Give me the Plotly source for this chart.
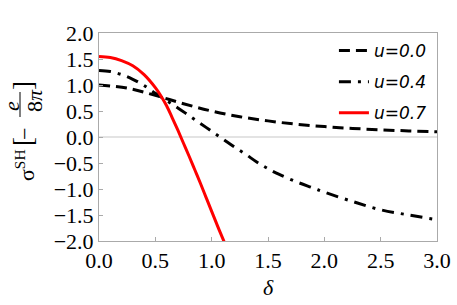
import plotly.graph_objects as go

# ---- data ----
delta_u00 = [0.0, 0.25, 0.5, 0.75, 1.0, 1.25, 1.5, 1.75, 2.0, 2.25, 2.5, 2.75, 3.0]
sigma_u00 = [1.0, 0.94, 0.80, 0.64, 0.50, 0.39, 0.31, 0.246, 0.20, 0.165, 0.138, 0.117, 0.10]

delta_u04 = [0.0, 0.1, 0.2, 0.3, 0.4, 0.5, 0.6, 0.7, 0.8, 0.9, 1.0, 1.1, 1.2, 1.3, 1.4,
             1.5, 1.6, 1.75, 1.9, 2.0, 2.25, 2.5, 2.75, 3.0]
sigma_u04 = [1.28, 1.26, 1.20, 1.11, 0.99, 0.84, 0.70, 0.56, 0.41, 0.26, 0.11, -0.04, -0.19,
             -0.33, -0.48, -0.61, -0.72, -0.86, -0.98, -1.06, -1.24, -1.40, -1.50, -1.59]

delta_u07 = [0.0, 0.1, 0.2, 0.3, 0.4, 0.5, 0.55, 0.6, 0.65, 0.7, 0.75, 0.8, 0.85, 0.9,
             0.95, 1.0, 1.05, 1.1, 1.125]
sigma_u07 = [1.55, 1.53, 1.47, 1.37, 1.20, 0.95, 0.79, 0.60, 0.37, 0.13, -0.12, -0.37,
             -0.63, -0.89, -1.16, -1.43, -1.70, -1.96, -2.09]

x_ticks = [0.0, 0.5, 1.0, 1.5, 2.0, 2.5, 3.0]
y_ticks = [-2.0, -1.5, -1.0, -0.5, 0.0, 0.5, 1.0, 1.5, 2.0]
labels = ["u=0.0", "u=0.4", "u=0.7"]

# ---- layout geometry ----
W, H = 457, 305
ML, MR, MT, MB = 99, 20, 33, 64
PW, PH = W - ML - MR, H - MT - MB


def xp(px):
    return (px - ML) / PW


def yp(py):
    return (H - MB - py) / PH


fig = go.Figure()
fig.add_trace(go.Scatter(x=delta_u00, y=sigma_u00, mode="lines", name=labels[0],
                         legendgroup="a",
                         line=dict(color="black", width=3, dash="11px,6px", shape="spline")))
fig.add_trace(go.Scatter(x=delta_u04, y=sigma_u04, mode="lines", name=labels[1],
                         legendgroup="b",
                         line=dict(color="black", width=3, dash="12px,7px,3px,7px", shape="spline")))
fig.add_trace(go.Scatter(x=delta_u07, y=sigma_u07, mode="lines", name=labels[2],
                         legendgroup="c",
                         line=dict(color="#ff0000", width=3, shape="spline")))

serif = "Liberation Serif, Times New Roman, serif"
axis_common = dict(showgrid=False, showline=True, linecolor="#aaaaaa", linewidth=1,
                   mirror=True, ticks="inside", ticklen=4, tickcolor="#aaaaaa",
                   tickfont=dict(family=serif, size=22, color="black"), tickformat=".1f",
                   automargin=False)

fig.update_layout(
    width=W, height=H,
    margin=dict(l=ML, r=MR, t=MT, b=MB, autoexpand=False),
    paper_bgcolor="white", plot_bgcolor="white",
    xaxis=dict(range=[0, 3], tickvals=x_ticks, zeroline=False, **axis_common),
    yaxis=dict(range=[-2, 2], tickvals=y_ticks, zeroline=True, zerolinecolor="#e3e3e3",
               zerolinewidth=2, **axis_common),
    showlegend=True,
    legend=dict(x=0.985, xanchor="right", y=1.0, yanchor="top", bgcolor="rgba(0,0,0,0)",
                font=dict(family="DejaVu Sans", size=17, color="black", style="italic"),
                tracegroupgap=6, itemwidth=30),
)

# x-axis title
fig.add_annotation(text="<i>δ</i>", xref="paper", yref="paper", x=xp(268), y=yp(287),
                   showarrow=False, font=dict(family=serif, size=22, color="black"),
                   xanchor="center", yanchor="middle")

# y-axis title built from rotated pieces
pieces = [
    ("σ<sup>SH</sup>", 25, 165, 22),
    ("[", 23, 142, 27),
    ("−", 24, 134, 22),
    ("<i>e</i>", 11, 106, 22),
    ("8<i>π</i>", 35, 101, 22),
    ("]", 23, 86, 27),
]
for txt, px, py, fs in pieces:
    fig.add_annotation(text=txt, xref="paper", yref="paper", x=xp(px), y=yp(py),
                       showarrow=False, textangle=-90, xanchor="center", yanchor="middle",
                       font=dict(family=serif, size=fs, color="black"))
fig.add_shape(type="line", xref="paper", yref="paper", x0=xp(20), x1=xp(20),
              y0=yp(92), y1=yp(117), line=dict(color="black", width=1))

fig.write_html("out.html", config={"displayModeBar": False},
               post_script="document.body.style.margin='0';")
